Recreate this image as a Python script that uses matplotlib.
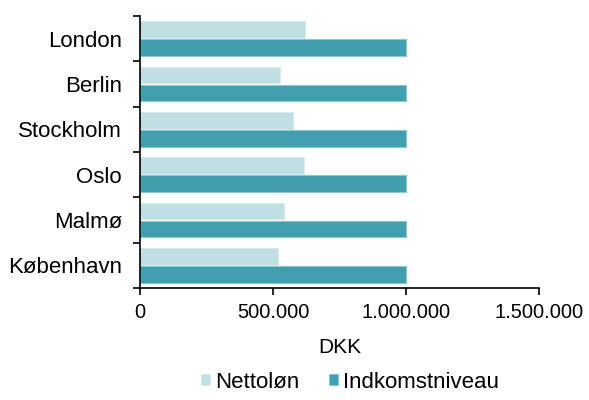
import matplotlib
matplotlib.use("Agg")
import matplotlib.pyplot as plt
import numpy as np
from matplotlib.ticker import FuncFormatter, FixedLocator

plt.rcParams['font.family'] = ['Liberation Sans', 'DejaVu Sans']

cities = ["København", "Malmø", "Oslo", "Stockholm", "Berlin", "London"]
nettoloen = [517000, 540000, 615000, 577000, 525000, 622000]
indkomst = [1000000, 1000000, 1000000, 1000000, 1000000, 1000000]
xticks = [0, 500000, 1000000, 1500000]

light = "#bfdfe3"
dark = "#419eae"

fig = plt.figure(figsize=(5.89, 4.0), dpi=100)
ax = fig.add_axes([140/589, 1-288/400, (539-140)/589, (288-16)/400])

y = np.arange(len(cities))
h = 0.37
ax.barh(y + 0.2, nettoloen, height=h, color=light, edgecolor="#d8ecef", linewidth=0.8, label="Nettoløn")
ax.barh(y - 0.2, indkomst, height=h, color=dark, edgecolor="#8cc6cf", linewidth=0.8, label="Indkomstniveau")

ax.set_xlim(0, 1500000)
ax.set_ylim(-0.5, len(cities) - 0.5)
ax.set_xticks(xticks)
ax.xaxis.set_major_formatter(FuncFormatter(lambda v, p: f"{int(v):,}".replace(",", ".")))

ax.yaxis.set_major_locator(FixedLocator(np.arange(-0.5, len(cities), 1.0)))
ax.yaxis.set_major_formatter(FuncFormatter(lambda v, p: ""))
ax.set_yticks(y, minor=True)
ax.set_yticklabels(cities, minor=True)
ax.tick_params(axis='y', which='minor', length=0, pad=13, labelsize=16)
ax.tick_params(axis='y', which='major', length=5, width=1.2, direction='out')
ax.tick_params(axis='x', length=5, width=1.2, direction='out', labelsize=14.5, pad=6)

for s in ["top", "right"]:
    ax.spines[s].set_visible(False)
for s in ["left", "bottom"]:
    ax.spines[s].set_linewidth(1.2)

ax.set_xlabel("DKK", fontsize=15, labelpad=11)

handles, labels = ax.get_legend_handles_labels()
fig.legend(handles, labels, loc='center', bbox_to_anchor=(350/589, 1-382/400), ncol=2,
           frameon=False, fontsize=16, handlelength=0.4, handleheight=0.4,
           handletextpad=0.25, columnspacing=1.3)

fig.savefig("out.png", dpi=100)
